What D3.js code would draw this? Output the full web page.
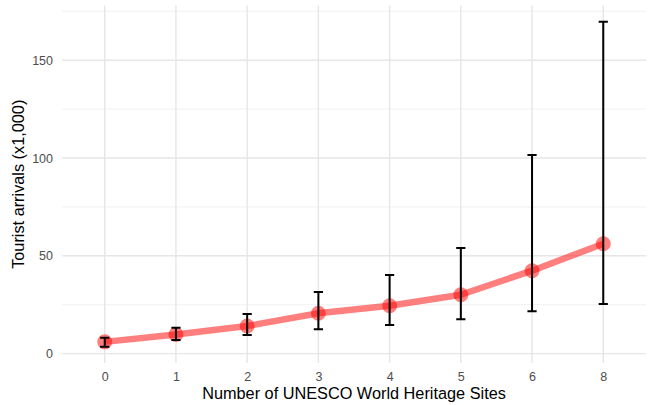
<!DOCTYPE html>
<html>
<head>
<meta charset="utf-8">
<script src="https://cdn.jsdelivr.net/npm/d3@7"></script>
<style>
  body { margin: 0; background: #fff; }
  svg { display: block; font-family: "Liberation Sans", Arial, sans-serif; }
</style>
</head>
<body>
<svg id="chart" width="651" height="405"></svg>
<script>
const categories = ["0", "1", "2", "3", "4", "5", "6", "8"];
const means = [6.0, 9.8, 14.1, 20.6, 24.5, 30.1, 42.4, 56.2];
const lower = [3.5, 6.9, 9.5, 12.5, 14.6, 17.6, 21.7, 25.3];
const upper = [8.1, 13.2, 20.2, 31.5, 40.2, 54.0, 101.5, 169.7];
const yTicks = [0, 50, 100, 150];
const yMinor = [25, 75, 125, 175];

const W = 651, H = 405;
const m = { left: 62, right: 5, top: 5.5, bottom: 42 };
const svg = d3.select("#chart");

const data = categories.map((c, i) => ({ c, mean: means[i], lo: lower[i], hi: upper[i] }));

const n = categories.length;
const pw = W - m.left - m.right;
const step = pw / (n - 1 + 1.2);
const x = d3.scalePoint().domain(categories)
  .range([m.left + 0.6 * step, m.left + 0.6 * step + step * (n - 1)]);

const yMin = d3.min(lower), yMax = d3.max(upper);
const pad = (yMax - yMin) * 0.05;
const y = d3.scaleLinear().domain([yMin - pad, yMax + pad]).range([H - m.bottom, m.top]);

const grid = svg.append("g");
yMinor.forEach(v => {
  grid.append("line").attr("x1", m.left).attr("x2", W - m.right)
    .attr("y1", y(v)).attr("y2", y(v)).attr("stroke", "#ebebeb").attr("stroke-width", 0.7);
});
yTicks.forEach(v => {
  grid.append("line").attr("x1", m.left).attr("x2", W - m.right)
    .attr("y1", y(v)).attr("y2", y(v)).attr("stroke", "#e6e6e6").attr("stroke-width", 1.4);
});
categories.forEach(c => {
  grid.append("line").attr("x1", x(c)).attr("x2", x(c))
    .attr("y1", m.top).attr("y2", H - m.bottom).attr("stroke", "#e6e6e6").attr("stroke-width", 1.4);
});

const yAxis = svg.append("g").attr("transform", `translate(${m.left},0)`)
  .call(d3.axisLeft(y).tickValues(yTicks).tickSize(0).tickPadding(9));
yAxis.select(".domain").remove();
yAxis.selectAll("text").attr("fill", "#4d4d4d").style("font-size", "12.5px");

const xAxis = svg.append("g").attr("transform", `translate(0,${H - m.bottom})`)
  .call(d3.axisBottom(x).tickSize(0).tickPadding(9.5));
xAxis.select(".domain").remove();
xAxis.selectAll("text").attr("fill", "#4d4d4d").style("font-size", "12.5px");

svg.append("path").datum(data)
  .attr("d", d3.line().x(d => x(d.c)).y(d => y(d.mean)))
  .attr("fill", "none").attr("stroke", "#ff0000").attr("stroke-opacity", 0.5)
  .attr("stroke-width", 6.5).attr("stroke-linejoin", "round");

svg.append("g").selectAll("circle").data(data).join("circle")
  .attr("cx", d => x(d.c)).attr("cy", d => y(d.mean)).attr("r", 7.5)
  .attr("fill", "#ff0000").attr("fill-opacity", 0.5);

const eb = svg.append("g").attr("stroke", "#000").attr("stroke-width", 2).attr("fill", "none");
const cap = 4.6;
data.forEach(d => {
  const cx = x(d.c);
  eb.append("path").attr("d",
    `M${cx - cap},${y(d.hi)}H${cx + cap}M${cx},${y(d.hi)}V${y(d.lo)}M${cx - cap},${y(d.lo)}H${cx + cap}`);
});

svg.append("text").attr("x", m.left + pw / 2).attr("y", 399.3)
  .attr("text-anchor", "middle").style("font-size", "16.3px").attr("fill", "#000")
  .text("Number of UNESCO World Heritage Sites");
svg.append("text").attr("transform", `translate(24,${(m.top + H - m.bottom) / 2}) rotate(-90)`)
  .attr("text-anchor", "middle").style("font-size", "16.3px").attr("fill", "#000")
  .text("Tourist arrivals (x1,000)");
</script>
</body>
</html>
